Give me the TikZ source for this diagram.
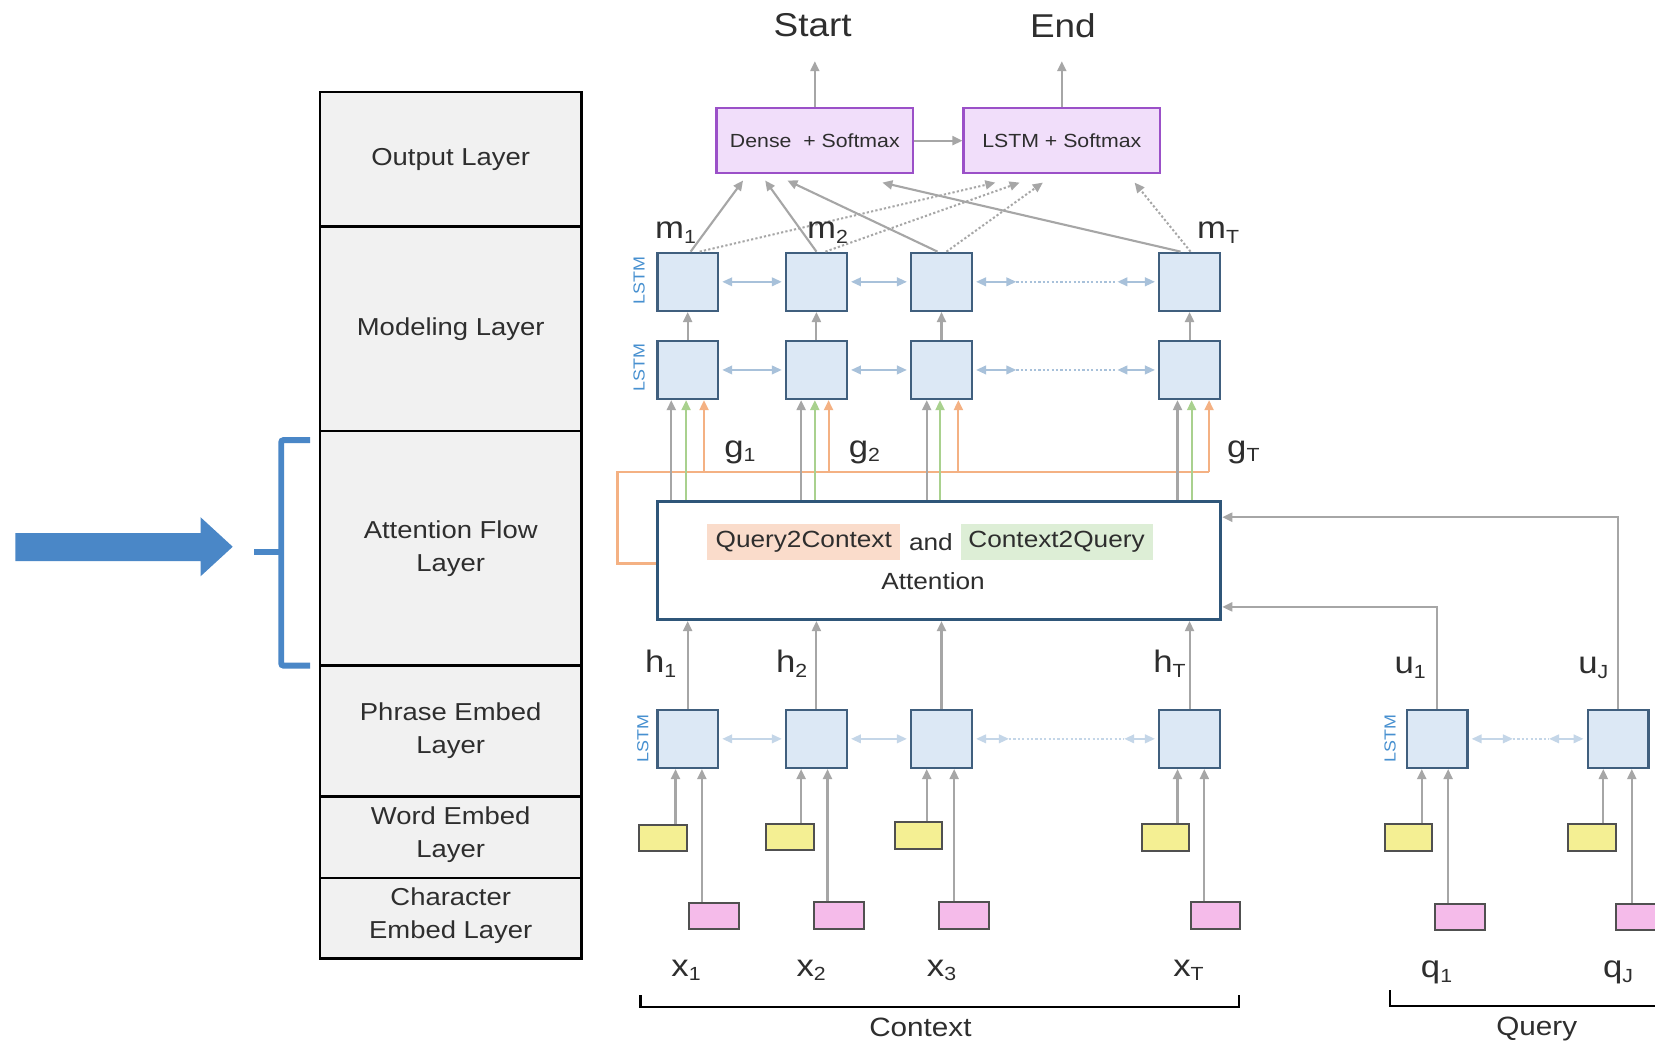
\documentclass[tikz,border=0pt]{standalone}
\usepackage{fontspec}
\setmainfont{Liberation Sans}[FakeStretch=1.12]
\usetikzlibrary{arrows.meta,calc}
\definecolor{lstmfill}{HTML}{DCE8F5}
\definecolor{lstmdraw}{HTML}{405F7E}
\definecolor{arrgray}{HTML}{A6A6A6}
\definecolor{hblue}{HTML}{A8C1DA}
\definecolor{hbluelt}{HTML}{C4D6E8}
\definecolor{purfill}{HTML}{F1DEFA}
\definecolor{purdraw}{HTML}{9B50C8}
\definecolor{orng}{HTML}{F4B183}
\definecolor{grn}{HTML}{A9D18E}
\definecolor{qcbg}{HTML}{FADCCB}
\definecolor{cqbg}{HTML}{DDEED6}
\definecolor{ylw}{HTML}{F4EF93}
\definecolor{pnk}{HTML}{F5BBEA}
\definecolor{boxdraw}{HTML}{505050}
\definecolor{bigblue}{HTML}{4A87C7}
\definecolor{layerfill}{HTML}{F1F1F1}
\definecolor{lstmtxt}{HTML}{4790D0}
\definecolor{atdraw}{HTML}{2F5679}
\definecolor{txt}{HTML}{2E2E2E}
\newcommand\fs[1]{\fontsize{#1}{#1}\selectfont}
\newcommand\sbs[1]{\raisebox{-0.15em}{\fontsize{19}{19}\selectfont #1}}
\begin{document}
\begin{tikzpicture}[x=1.0555pt,y=-1.0555pt,
  lstm/.style={draw=lstmdraw,fill=lstmfill,line width=2.4pt,minimum width=60.7pt,minimum height=58pt,inner sep=0pt},
  purbox/.style={draw=purdraw,fill=purfill,line width=2.4pt,minimum width=196.3pt,minimum height=64.9pt,inner sep=0pt,font=\fs{19},text=txt},
  ybox/.style={draw=boxdraw,fill=ylw,line width=2pt,minimum width=47.5pt,minimum height=26.4pt,inner sep=0pt},
  pbox/.style={draw=boxdraw,fill=pnk,line width=2pt,minimum width=49.6pt,minimum height=26.4pt,inner sep=0pt},
  layer/.style={draw=black,fill=layerfill,line width=2.4pt},
  laytext/.style={font={\fontsize{24.5}{33}\selectfont},align=center,text=txt},
  lab/.style={font=\fs{31},text=txt,inner sep=0pt,anchor=base},
  lstmlab/.style={font=\fs{16},text=lstmtxt,rotate=90,inner sep=0pt},
  garr/.style={draw=arrgray,line width=2.1pt,-{Triangle[length=10pt,width=9pt]}},
  gdot/.style={draw=arrgray,line width=2pt,dash pattern=on 2.2pt off 2.2pt,-{Triangle[length=10pt,width=9pt]}},
  grarr/.style={draw=grn,line width=2.1pt,-{Triangle[length=10pt,width=9pt]}},
  orarr/.style={draw=orng,line width=2.1pt,-{Triangle[length=10pt,width=9pt]}},
  harr/.style={draw=hblue,line width=2.2pt,{Triangle[length=10pt,width=8.5pt]}-{Triangle[length=10pt,width=8.5pt]}},
  hdot/.style={draw=hblue,line width=2pt,dash pattern=on 2.2pt off 2.2pt},
  harrlt/.style={harr,draw=hbluelt},
  hdotlt/.style={hdot,draw=hbluelt},
  brk/.style={draw=black,line width=2.4pt}
]
\useasboundingbox[fill=white] (0,0) rectangle (1568,990);

% ---------- left: layer column ----------
\draw[layer] (303,87) rectangle (551,214.5) node[midway,laytext] (Lout) {Output Layer};
\draw[layer] (303,214.5) rectangle (551,408.5) node[midway,laytext] (Lmod) {Modeling Layer};
\draw[layer] (303,408.5) rectangle (551,630.5) node[midway,laytext] (Latt) {Attention Flow\\Layer};
\draw[layer] (303,630.5) rectangle (551,754.5) node[midway,laytext] (Lphr) {Phrase Embed\\Layer};
\draw[layer] (303,754.5) rectangle (551,832) node[midway,laytext,yshift=3pt] (Lwrd) {Word Embed\\Layer};
\draw[layer] (303,832) rectangle (551,908) node[midway,laytext,yshift=3pt] (Lchr) {Character\\Embed Layer};

% big arrow and bracket
\fill[bigblue] (14.5,505) -- (190,505) -- (190,490) -- (220.5,518) -- (190,546) -- (190,531.5) -- (14.5,531.5) -- cycle;
\draw[bigblue,line width=5.8pt,rounded corners=2pt] (293.7,417) -- (266.5,417) -- (266.5,630.6) -- (293.7,630.6);
\draw[bigblue,line width=5.8pt] (241,523) -- (266.5,523);

% ---------- output ----------
\node[purbox] (Dense) at (772,133.25) {Dense\ \ + Softmax};
\node[purbox] (LS) at (1006,133.25) {LSTM + Softmax};
\node[font=\fs{33},text=txt] (Start) at (770,24) {Start};
\node[font=\fs{33},text=txt] (End) at (1007,24) {End};
\coordinate (tipS) at (772,58);
\coordinate (tipE) at (1006,58);
\draw[garr] (Dense.north) -- (Dense.north |- tipS);
\draw[garr] (LS.north) -- (LS.north |- tipE);
\draw[garr] (Dense.east) -- (LS.west);

% ---------- modeling LSTMs ----------
\foreach \i/\x in {1/651.5,2/773.5,3/892,4/1127} {
  \node[lstm] (A\i) at (\x,267) {};
  \node[lstm] (B\i) at (\x,350.5) {};
  \node[lstm] (P\i) at (\x,700) {};
}
\node[lstmlab] (lA) at (605.5,266) {LSTM};
\node[lstmlab] (lB) at (605.5,348) {LSTM};
\node[lstmlab] (lP) at (609,700) {LSTM};

\foreach \i in {1,2,3,4} { \draw[garr] (B\i.north) -- (A\i.south); }

% horizontal bidirectional arrows
\foreach \r in {A,B} {
  \draw[harr,shorten <=3pt,shorten >=3pt] (\r1.east) -- (\r2.west);
  \draw[harr,shorten <=3pt,shorten >=3pt] (\r2.east) -- (\r3.west);
  \path (\r3.east) ++(41,0) coordinate (\r34a);
  \path (\r4.west) ++(-38.5,0) coordinate (\r34b);
  \draw[harr,shorten <=3pt] (\r3.east) -- (\r34a);
  \draw[hdot] (\r34a) -- (\r34b);
  \draw[harr,shorten >=3pt] (\r34b) -- (\r4.west);
}
\draw[harrlt,shorten <=3pt,shorten >=3pt] (P1.east) -- (P2.west);
\draw[harrlt,shorten <=3pt,shorten >=3pt] (P2.east) -- (P3.west);
\path (P3.east) ++(34,0) coordinate (P34a);
\path (P4.west) ++(-32,0) coordinate (P34b);
\draw[harrlt,shorten <=3pt] (P3.east) -- (P34a);
\draw[hdotlt] (P34a) -- (P34b);
\draw[harrlt,shorten >=3pt] (P34b) -- (P4.west);

% connections to output boxes
\coordinate (ds1) at (704,171);
\coordinate (ds2) at (725,171);
\coordinate (ds3) at (746,171);
\coordinate (ds4) at (836,173);
\coordinate (ls1) at (943,173);
\coordinate (ls2) at (966,173);
\coordinate (ls3) at (988,173);
\coordinate (ls4) at (1075,173);
\draw[garr] ([xshift=3pt]A1.north) -- (ds1);
\draw[garr] (A2.north) -- (ds2);
\draw[garr] ([xshift=-4pt]A3.north) -- (ds3);
\draw[garr] ([xshift=-9pt]A4.north) -- (ds4);
\draw[gdot] ([xshift=12pt]A1.north) -- (ls1);
\draw[gdot] ([xshift=9pt]A2.north) -- (ls2);
\draw[gdot] ([xshift=5pt]A3.north) -- (ls3);
\draw[gdot] ([xshift=1pt]A4.north) -- (ls4);

\node[lab] (m1) at (640,226) {m\sbs{1}};
\node[lab] (m2) at (784,226) {m\sbs{2}};
\node[lab] (mT) at (1154,226) {m\sbs{T}};

% ---------- attention ----------
\node[draw=atdraw,fill=white,line width=3pt,minimum width=563.1pt,minimum height=118.2pt,inner sep=0pt] (ATT) at (889.25,531) {};
\node[fill=qcbg,minimum width=193pt,minimum height=36pt,inner sep=0pt,font=\fs{23.4},text=txt] (q2c) at (761.5,513.5) {Query2Context};
\node[font=\fs{23.4},text=txt] (and) at (882,513.5) {and};
\node[fill=cqbg,minimum width=192pt,minimum height=36pt,inner sep=0pt,font=\fs{23.4},text=txt] (c2q) at (1001,513.5) {Context2Query};
\node[font=\fs{23.4},text=txt] (attn) at (884,551) {Attention};

% orange loop
\coordinate (ol) at (585,534);
\coordinate (ou) at (585,447);
\foreach \i/\gx/\cx/\ox in {1/636/650/667,2/759/772/785,3/878/890.6/908,4/1115.6/1129/1145.5} {
  \coordinate (gx\i) at (\gx,0);
  \coordinate (cx\i) at (\cx,0);
  \coordinate (ox\i) at (\ox,0);
}
\draw[orng,line width=2.4pt] (ATT.west |- ol) -- (ol) -- (ou) -- (ou -| ox4);
\foreach \i in {1,2,3,4} {
  \draw[garr] (ATT.north -| gx\i) -- (B\i.south -| gx\i);
  \draw[grarr] (ATT.north -| cx\i) -- (B\i.south -| cx\i);
  \draw[orarr] (ou -| ox\i) -- (B\i.south -| ox\i);
}
\node[lab] (g1) at (701,433) {g\sbs{1}};
\node[lab] (g2) at (819,433) {g\sbs{2}};
\node[lab] (gT) at (1178,433) {g\sbs{T}};

% ---------- phrase / embed for context ----------
\foreach \i in {1,2,3,4} { \draw[garr] (P\i.north) -- (P\i.north |- ATT.south); }
\node[lab] (h1) at (626,637) {h\sbs{1}};
\node[lab] (h2) at (750,637) {h\sbs{2}};
\node[lab] (hT) at (1108,637) {h\sbs{T}};

\foreach \i/\yx/\yy/\px/\pp/\ya/\pa in {1/628/794/676.5/868/640/665,2/748.5/793/795/867.5/759/784,3/870/791.5/913.5/867.5/878/904,4/1104/793.5/1151.5/867.5/1115.6/1141} {
  \node[ybox] (Y\i) at (\yx,\yy) {};
  \node[pbox] (K\i) at (\px,\pp) {};
  \coordinate (ya\i) at (\ya,0);
  \coordinate (pa\i) at (\pa,0);
  \draw[garr] (Y\i.north -| ya\i) -- (P\i.south -| ya\i);
  \draw[garr] (K\i.north -| pa\i) -- (P\i.south -| pa\i);
}
\node[lab] (x1) at (650,925) {x\sbs{1}};
\node[lab] (x2) at (768.5,925) {x\sbs{2}};
\node[lab] (x3) at (892,925) {x\sbs{3}};
\node[lab] (xT) at (1126,925) {x\sbs{T}};
\draw[brk] (607,943) -- (607,954) -- (1174,954) -- (1174,943);
\node[font=\fs{26.5},text=txt] (ctx) at (872,973) {Context};

% ---------- query ----------
\node[lstm] (U1) at (1361.5,700) {};
\node[lstm] (UJ) at (1533,700) {};
\node[lstmlab] (lU) at (1317,700) {LSTM};
\path (U1.east) ++(42,0) coordinate (Ua);
\path (UJ.west) ++(-35.5,0) coordinate (Ub);
\draw[harrlt,shorten <=3pt] (U1.east) -- (Ua);
\draw[hdotlt] (Ua) -- (Ub);
\draw[harrlt,shorten >=3pt] (Ub) -- (UJ.west);
\coordinate (attR1) at (1158,490);
\coordinate (attR2) at (1158,575);
\draw[garr] (U1.north) |- (attR2);
\draw[garr] (UJ.north) |- (attR1);
\node[lab] (u1) at (1336,638) {u\sbs{1}};
\node[lab] (uJ) at (1509.6,638) {u\sbs{J}};
\foreach \i/\yx/\px/\ya/\pa in {1/1334.5/1383/1347/1372,J/1508.5/1554.5/1519/1546} {
  \node[ybox] (QY\i) at (\yx,793.5) {};
  \node[pbox] (QK\i) at (\px,869) {};
  \coordinate (qya\i) at (\ya,0);
  \coordinate (qpa\i) at (\pa,0);
  \draw[garr] (QY\i.north -| qya\i) -- (U\i.south -| qya\i);
  \draw[garr] (QK\i.north -| qpa\i) -- (U\i.south -| qpa\i);
}
\node[lab] (q1) at (1361,926) {q\sbs{1}};
\node[lab] (qJ) at (1533,926) {q\sbs{J}};
\draw[brk] (1317,938) -- (1317,953) -- (1568,953);
\node[font=\fs{26.5},text=txt] (qry) at (1456,975) {Query};
\end{tikzpicture}
\end{document}
